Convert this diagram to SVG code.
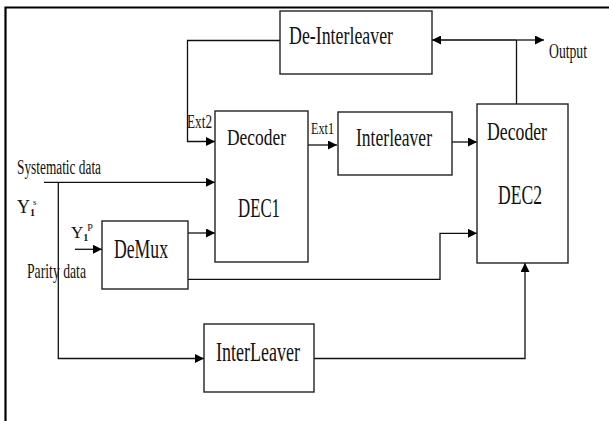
<svg xmlns="http://www.w3.org/2000/svg" width="609" height="421" viewBox="0 0 609 421">
<style>
.box{fill:#fff;stroke:#222;stroke-width:1.4}
.ln{fill:none;stroke:#111;stroke-width:1.3}
.t{font-family:"Liberation Serif","Times New Roman",serif;fill:#111}
</style>
<defs>
<marker id="ah" viewBox="0 0 10 10" refX="10" refY="5" markerWidth="9" markerHeight="9" markerUnits="userSpaceOnUse" orient="auto">
<path d="M0,0 L10,5 L0,10 Z" fill="#000"/>
</marker>
</defs>
<rect x="0" y="0" width="609" height="421" fill="#fff"/>
<path d="M5.5,421 V7.5 H609" fill="none" stroke="#000" stroke-width="2.2"/>

<g id="connectors">
<path class="ln" d="M280,40.5 H187.5 V141.5 H215" marker-end="url(#ah)"/>
<path d="M516.5,40 H432" fill="none" stroke="#444" stroke-width="2" marker-end="url(#ah)"/>
<path class="ln" d="M516.5,40 H544" marker-end="url(#ah)"/>
<path class="ln" d="M516.5,40 V104"/>
<path class="ln" d="M308,145 H337" marker-end="url(#ah)"/>
<path class="ln" d="M452,142 H477" marker-end="url(#ah)"/>
<path class="ln" d="M44,182.3 H215" marker-end="url(#ah)"/>
<path class="ln" d="M58.3,182.3 V358.5 H204" marker-end="url(#ah)"/>
<path class="ln" d="M313.5,358.5 H525 V263" marker-end="url(#ah)"/>
<path class="ln" d="M75,249.3 H102" marker-end="url(#ah)"/>
<path class="ln" d="M188,233 H215" marker-end="url(#ah)"/>
<path class="ln" d="M188,279.3 H440 V233.3 H477" marker-end="url(#ah)"/>
</g>

<g id="deinterleaver">
<rect class="box" x="280" y="11" width="152" height="63"/>
<text class="t" x="289" y="44" font-size="25" textLength="104" lengthAdjust="spacingAndGlyphs">De-Interleaver</text>
</g>
<g id="dec1">
<rect class="box" x="215" y="111" width="93" height="151"/>
<text class="t" x="227" y="145" font-size="24" textLength="59" lengthAdjust="spacingAndGlyphs">Decoder</text>
<text class="t" x="238" y="217" font-size="27" textLength="42" lengthAdjust="spacingAndGlyphs">DEC1</text>
</g>
<g id="interleaver">
<rect class="box" x="338" y="112" width="114" height="63"/>
<text class="t" x="356" y="146" font-size="26" textLength="76" lengthAdjust="spacingAndGlyphs">Interleaver</text>
</g>
<g id="dec2">
<rect class="box" x="477" y="104" width="91" height="159"/>
<text class="t" x="487" y="140" font-size="26" textLength="60" lengthAdjust="spacingAndGlyphs">Decoder</text>
<text class="t" x="498" y="204" font-size="27" textLength="44" lengthAdjust="spacingAndGlyphs">DEC2</text>
</g>
<g id="demux">
<rect class="box" x="102" y="221" width="86" height="68"/>
<text class="t" x="114" y="258" font-size="28" textLength="54" lengthAdjust="spacingAndGlyphs">DeMux</text>
</g>
<g id="interleaver2">
<rect class="box" x="204" y="324" width="110" height="68"/>
<text class="t" x="216" y="361" font-size="27" textLength="84" lengthAdjust="spacingAndGlyphs">InterLeaver</text>
</g>

<g id="labels">
<text class="t" x="549" y="58" font-size="21" textLength="38" lengthAdjust="spacingAndGlyphs">Output</text>
<text class="t" x="187" y="128" font-size="18" textLength="25" lengthAdjust="spacingAndGlyphs">Ext2</text>
<text class="t" x="311" y="134" font-size="17" textLength="23" lengthAdjust="spacingAndGlyphs">Ext1</text>
<text class="t" x="17" y="174" font-size="20" textLength="84" lengthAdjust="spacingAndGlyphs">Systematic data</text>
<text class="t" x="27" y="278" font-size="21" textLength="59" lengthAdjust="spacingAndGlyphs">Parity data</text>
<text class="t" x="17" y="213" font-size="18">Y<tspan font-size="10" font-weight="bold" dy="3">1</tspan><tspan font-size="9" dy="-11" dx="-2">s</tspan></text>
<text class="t" x="71" y="238" font-size="17">Y<tspan font-size="10" font-weight="bold" dy="3">1</tspan><tspan font-size="10" dy="-10" dx="-1">P</tspan></text>
</g>
</svg>
